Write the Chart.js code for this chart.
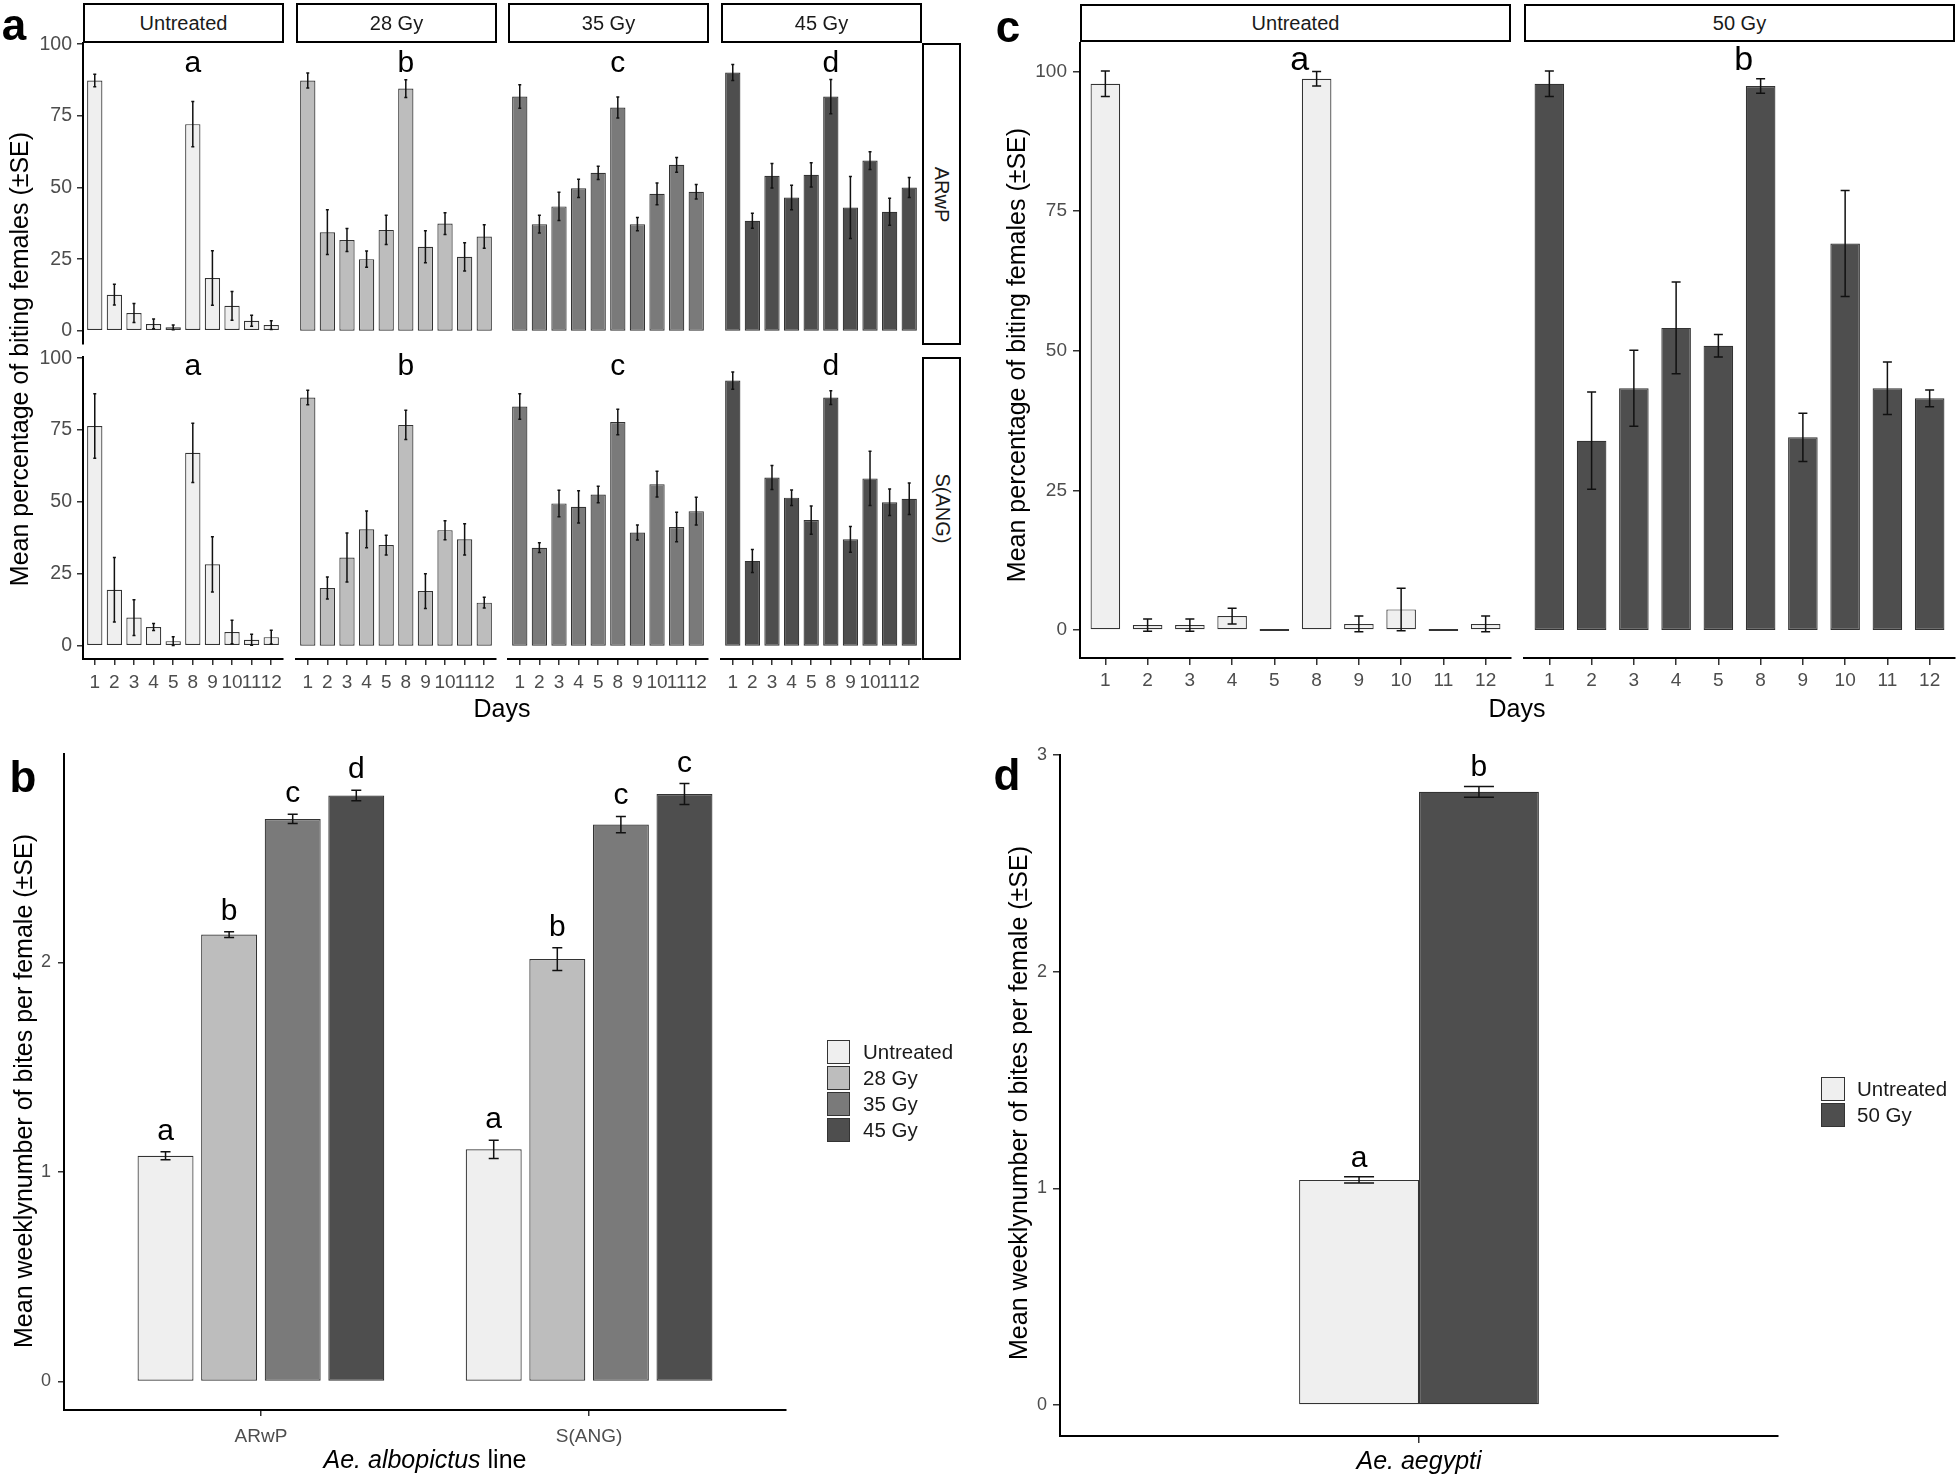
<!DOCTYPE html>
<html>
<head>
<meta charset="utf-8">
<title>Biting activity of irradiated Aedes females</title>
<script src="https://cdn.jsdelivr.net/npm/chart.js@4.4.1/dist/chart.umd.min.js"></script>
<style>
  html,body{margin:0;padding:0;background:#fff;}
  body{position:relative;width:1960px;height:1480px;overflow:hidden;font-family:"Liberation Sans",Arial,Helvetica,sans-serif;}
  canvas{position:absolute;}
  .txt{position:absolute;white-space:nowrap;}
  .strip{position:absolute;box-sizing:border-box;border:2px solid #000;background:#fff;display:flex;align-items:center;justify-content:center;color:#1a1a1a;font-size:20px;}
  .vstrip span{display:inline-block;transform:rotate(90deg);white-space:nowrap;}
  .key{position:absolute;box-sizing:border-box;border:1px solid #333;}
</style>
</head>
<body>
<script>
// ======================= DATA =======================
const days = ['1','2','3','4','5','8','9','10','11','12'];

// Panel a : Ae. albopictus, mean % of biting females per day (±SE)
const albTreatments = ['Untreated','28 Gy','35 Gy','45 Gy'];
const albLines      = ['ARwP','S(ANG)'];
const albLetters    = ['a','b','c','d'];

const arwpUntreated   = [87.3,12.6,6.2,2.4,1.2,72.1,18.4,8.7,3.5,2.0];
const arwpUntreatedSE = [2.2,3.6,3.3,1.7,0.8,7.9,9.5,5.0,1.9,1.5];
const arwp28          = [87.3,34.4,31.7,25.0,35.2,84.5,29.3,37.4,25.8,32.9];
const arwp28SE        = [2.6,7.8,4.0,2.8,5.1,3.1,5.6,3.8,4.9,4.1];
const arwp35          = [81.7,37.2,43.4,49.7,55.1,77.9,37.2,47.8,57.9,48.5];
const arwp35SE        = [4.1,3.1,4.9,3.2,2.3,3.7,2.3,3.8,2.6,2.5];
const arwp45          = [90.1,38.4,54.1,46.5,54.4,81.7,43.0,59.4,41.5,50.0];
const arwp45SE        = [2.8,2.6,4.3,4.3,4.2,6.0,10.8,3.1,4.7,3.5];

const sangUntreated   = [76.4,19.5,9.8,6.5,1.6,67.1,28.3,4.8,2.1,3.0];
const sangUntreatedSE = [11.2,11.2,6.2,1.2,1.5,10.3,9.6,4.1,1.9,2.4];
const sang28          = [86.3,20.1,30.7,40.5,35.0,76.8,19.0,40.2,37.0,15.0];
const sang28SE        = [2.5,3.8,8.5,6.4,3.4,5.1,6.0,3.3,5.4,1.9];
const sang35          = [83.2,34.1,49.5,48.3,52.6,77.8,39.4,56.2,41.3,46.8];
const sang35SE        = [4.4,1.7,4.6,5.6,2.9,4.4,2.6,4.5,5.1,4.8];
const sang45          = [92.2,29.5,58.5,51.5,43.7,86.3,37.0,58.2,49.9,51.1];
const sang45SE        = [3.0,4.0,4.2,2.7,4.9,2.4,4.5,9.4,4.6,5.5];

// Panel c : Ae. aegypti, mean % of biting females per day (±SE)
const aegTreatments     = ['Untreated','50 Gy'];
const aegLetters        = ['a','b'];
const aegDailyUntreated   = [97.8,0.9,0.9,2.5,0,98.7,1.1,3.7,0,1.1];
const aegDailyUntreatedSE = [2.3,1.1,1.1,1.4,0,1.3,1.4,3.8,0,1.4];
const aegDaily50          = [97.8,33.9,43.3,54.1,50.9,97.4,34.5,69.2,43.3,41.5];
const aegDaily50SE        = [2.3,8.7,6.8,8.2,2.0,1.3,4.3,9.5,4.7,1.5];

// Panel b : Ae. albopictus, mean weekly number of bites per female (±SE), by line [ARwP, S(ANG)]
const weeklyUntreated   = [1.077,1.108];
const weeklyUntreatedSE = [0.019,0.044];
const weekly28          = [2.133,2.016];
const weekly28SE        = [0.014,0.054];
const weekly35          = [2.685,2.658];
const weekly35SE        = [0.022,0.039];
const weekly45          = [2.797,2.804];
const weekly45SE        = [0.025,0.050];
const weeklyLettersUntreated = ['a','a'];
const weeklyLetters28        = ['b','b'];
const weeklyLetters35        = ['c','c'];
const weeklyLetters45        = ['d','c'];

// Panel d : Ae. aegypti, mean weekly number of bites per female (±SE), [Untreated, 50 Gy]
const aegWeekly        = [1.039,2.830];
const aegWeeklySE      = [0.014,0.025];
const aegWeeklyLetters = ['a','b'];

// ======================= STYLE =======================
const FONT = '"Liberation Sans", Arial, Helvetica, sans-serif';
const albColors = ['#efefef','#bdbdbd','#7a7a7a','#4e4e4e'];
const aegColors = ['#efefef','#4e4e4e'];
const BAR_BORDER = '#333333';
const TICK_TEXT = '#4d4d4d';
const M = 80;   // canvas margin around each panel

// ======================= HELPERS =======================
function errorBarPlugin(cfg){
  return { id:'errorBars', afterDatasetsDraw(chart){
    const ctx = chart.ctx, ys = chart.scales.y;
    ctx.save();
    ctx.strokeStyle = cfg.color; ctx.lineWidth = cfg.width; ctx.lineCap = 'butt';
    chart.data.datasets.forEach((ds, di) => {
      if (!ds.se) return;
      chart.getDatasetMeta(di).data.forEach((bar, i) => {
        const s = ds.se[i]; if (!s) return;
        const v = ds.data[i].y;
        const t = ys.getPixelForValue(v + s), b = ys.getPixelForValue(v - s);
        const c = cfg.cap / 2;
        ctx.beginPath();
        ctx.moveTo(bar.x, t); ctx.lineTo(bar.x, b);
        if (c > 0) { ctx.moveTo(bar.x - c, t); ctx.lineTo(bar.x + c, t); ctx.moveTo(bar.x - c, b); ctx.lineTo(bar.x + c, b); }
        ctx.stroke();
      });
    });
    ctx.restore();
  }};
}

function letterPlugin(items, font, gap){
  return { id:'sigLetters', afterDatasetsDraw(chart){
    const ctx = chart.ctx, xs = chart.scales.x, ys = chart.scales.y;
    ctx.save();
    ctx.font = font; ctx.fillStyle = '#000'; ctx.textAlign = 'center'; ctx.textBaseline = 'alphabetic';
    items.forEach(it => {
      let px, py;
      if (it.dataset !== undefined) {
        const ds = chart.data.datasets[it.dataset];
        const bar = chart.getDatasetMeta(it.dataset).data[it.index];
        px = bar.x;
        py = ys.getPixelForValue(ds.data[it.index].y + (ds.se ? ds.se[it.index] : 0)) - gap;
      } else {
        px = xs.getPixelForValue(it.x); py = ys.getPixelForValue(it.y);
      }
      ctx.fillText(it.text, px, py);
    });
    ctx.restore();
  }};
}

function panel(o){
  const cv = document.createElement('canvas');
  const W = o.w + 2*M, H = o.h + 2*M;
  cv.width = W; cv.height = H;
  Object.assign(cv.style, {left:(o.x - M)+'px', top:(o.y - M)+'px', width:W+'px', height:H+'px'});
  document.body.appendChild(cv);
  const yW = 60, xH = 44;
  const showY = !!o.yAxis, showX = !!o.xAxis;
  return new Chart(cv.getContext('2d'), {
    type:'bar',
    data:{ datasets:o.datasets },
    options:{
      responsive:false, animation:false, devicePixelRatio:1, events:[],
      layout:{ padding:{ left: showY ? M - yW : M, right:M, top:M, bottom: showX ? M - xH : M } },
      plugins:{ legend:{display:false}, tooltip:{enabled:false} },
      scales:{
        x:{ type:'linear', display:showX, min:o.xMin, max:o.xMax, offset:false, bounds:'data',
            afterBuildTicks:s => { s.ticks = o.xLabels.map((_, i) => ({value:i})); },
            afterFit:s => { s.height = showX ? xH : 0; },
            ticks:{ autoSkip:false, maxRotation:0, minRotation:0, color:TICK_TEXT,
                    font:{family:FONT, size:o.xFont || 19}, padding:o.xPad,
                    callback:v => (o.xLabels[v] !== undefined ? o.xLabels[v] : '') },
            grid:{ display:true, drawOnChartArea:false, drawTicks:true, tickLength:o.tick, color:'#333', lineWidth:1.5, offset:false },
            border:{ display:true, color:'#000', width:2 } },
        y:{ type:'linear', display:showY, min:o.yMin, max:o.yMax, bounds:'data',
            afterBuildTicks:s => { s.ticks = o.yTicks.map(v => ({value:v})); },
            afterFit:s => { s.width = showY ? yW : 0; },
            ticks:{ color:TICK_TEXT, font:{family:FONT, size:o.yFont || 18}, padding:o.yPad, callback:v => String(v) },
            grid:{ display:true, drawOnChartArea:false, drawTicks:true, tickLength:o.tick, color:'#333', lineWidth:1.5 },
            border:{ display:true, color:'#000', width:2 } }
      }
    },
    plugins:[ errorBarPlugin(o.err), letterPlugin(o.letters || [], o.letterFont, o.letterGap || 0) ]
  });
}

function text(html, cx, cy, opt){
  opt = opt || {};
  const d = document.createElement('div');
  d.className = 'txt';
  const size = opt.size || 20;
  d.style.font = `${opt.style || 'normal'} ${opt.weight || 'normal'} ${size}px ${FONT}`;
  d.style.lineHeight = size + 'px';
  d.style.color = opt.color || '#000';
  d.style.left = cx + 'px'; d.style.top = cy + 'px';
  const tx = opt.align === 'left' ? '0' : (opt.align === 'right' ? '-100%' : '-50%');
  d.style.transform = `translate(${tx},-50%)` + (opt.rotate ? ` rotate(${opt.rotate}deg)` : '');
  d.innerHTML = html;
  document.body.appendChild(d);
  return d;
}

function strip(label, x, y, w, h, vertical){
  const d = document.createElement('div');
  d.className = 'strip' + (vertical ? ' vstrip' : '');
  Object.assign(d.style, {left:x+'px', top:y+'px', width:w+'px', height:h+'px'});
  if (vertical) { const s = document.createElement('span'); s.textContent = label; d.appendChild(s); }
  else d.textContent = label;
  document.body.appendChild(d);
}

function legend(labels, colors, x, y0, pitch, kw, kh, textX){
  labels.forEach((lab, i) => {
    const k = document.createElement('div');
    k.className = 'key';
    Object.assign(k.style, {left:x+'px', top:(y0 + i*pitch)+'px', width:kw+'px', height:kh+'px', background:colors[i]});
    document.body.appendChild(k);
    text(lab, textX, y0 + i*pitch + kh/2, {size:20.5, align:'left', color:'#1a1a1a'});
  });
}

// ======================= PANEL a =======================
const albDaily   = [[arwpUntreated, arwp28, arwp35, arwp45], [sangUntreated, sang28, sang35, sang45]];
const albDailySE = [[arwpUntreatedSE, arwp28SE, arwp35SE, arwp45SE], [sangUntreatedSE, sang28SE, sang35SE, sang45SE]];
const A_X = [83, 296, 508, 721], A_W = 200;
const A_ROWS = [{y:43, h:301, letterY:90.3}, {y:357, h:302, letterY:94.1}];

A_ROWS.forEach((row, r) => {
  A_X.forEach((x, c) => {
    panel({ x, y:row.y, w:A_W, h:row.h, yAxis:c === 0, xAxis:r === 1,
      yMin:-4.6, yMax:100.4, yTicks:[0,25,50,75,100],
      xMin:-0.6, xMax:9.6, xLabels:days, tick:6, yPad:5, xPad:6, xFont:19, yFont:19.5,
      datasets:[{ label:albTreatments[c] + ' ' + albLines[r],
        data:albDaily[r][c].map((v, i) => ({x:i, y:v})), se:albDailySE[r][c],
        backgroundColor:albColors[c], borderColor:BAR_BORDER, borderWidth:1.2, borderSkipped:false,
        categoryPercentage:1, barPercentage:0.78 }],
      err:{cap:3, width:1.5, color:'#111'},
      letters:[{x:5, y:row.letterY, text:albLetters[c]}], letterFont:`30px ${FONT}` });
  });
  strip(albLines[r], 922, row.y, 39, row.h + 1, true);
});
A_X.forEach((x, c) => strip(albTreatments[c], x, 3, A_W + 1, 40, false));

text('a', 14, 25, {size:44, weight:'bold'});
text('Mean percentage of biting females (±SE)', 19, 359, {size:25, rotate:-90});
text('Days', 502, 708, {size:25});

// ======================= PANEL c =======================
const aegDaily   = [aegDailyUntreated, aegDaily50];
const aegDailySE = [aegDailyUntreatedSE, aegDaily50SE];
const C_X = [1080, 1524], C_W = 431;
C_X.forEach((x, c) => {
  panel({ x, y:43, w:C_W, h:615, yAxis:c === 0, xAxis:true,
    yMin:-5, yMax:105.1, yTicks:[0,25,50,75,100],
    xMin:-0.6, xMax:9.6, xLabels:days, tick:7, yPad:6, xPad:4, xFont:19, yFont:19,
    datasets:[{ label:aegTreatments[c],
      data:aegDaily[c].map((v, i) => ({x:i, y:v})), se:aegDailySE[c],
      backgroundColor:aegColors[c], borderColor:BAR_BORDER, borderWidth:1.2, borderSkipped:false,
      categoryPercentage:1, barPercentage:0.7, minBarLength:2 }],
    err:{cap:9, width:1.5, color:'#111'},
    letters:[{x:4.6, y:100.2, text:aegLetters[c]}], letterFont:`34px ${FONT}` });
  strip(aegTreatments[c], x, 4, C_W, 38, false);
});
text('c', 1008, 27, {size:44, weight:'bold'});
text('Mean percentage of biting females (±SE)', 1016, 355, {size:25, rotate:-90});
text('Days', 1517, 708, {size:25});

// ======================= PANEL b =======================
const weeklyMeans   = [weeklyUntreated, weekly28, weekly35, weekly45];
const weeklySE      = [weeklyUntreatedSE, weekly28SE, weekly35SE, weekly45SE];
const weeklyLetters = [weeklyLettersUntreated, weeklyLetters28, weeklyLetters35, weeklyLetters45];
panel({ x:64, y:754, w:722, h:656, yAxis:true, xAxis:true,
  yMin:-0.136, yMax:2.995, yTicks:[0,1,2],
  xMin:-0.6, xMax:1.6, xLabels:albLines, tick:6, yPad:7, xPad:9, xFont:19, yFont:18,
  datasets:weeklyMeans.map((m, k) => ({ label:albTreatments[k],
    data:m.map((v, i) => ({x:i, y:v})), se:weeklySE[k],
    backgroundColor:albColors[k], borderColor:BAR_BORDER, borderWidth:1.2, borderSkipped:false,
    categoryPercentage:0.775, barPercentage:0.88 })),
  err:{cap:10, width:1.5, color:'#111'},
  letters:weeklyLetters.flatMap((arr, k) => arr.map((t, i) => ({dataset:k, index:i, text:t}))),
  letterFont:`30px ${FONT}`, letterGap:12 });
text('b', 23, 777, {size:44, weight:'bold'});
text('Mean weeklynumber of bites per female (±SE)', 23, 1091, {size:25, rotate:-90});
text('<i>Ae. albopictus</i> line', 425, 1459, {size:25});
legend(albTreatments, albColors, 827, 1040, 26, 23, 24, 863);

// ======================= PANEL d =======================
panel({ x:1060, y:755, w:718, h:681, yAxis:true, xAxis:true,
  yMin:-0.143, yMax:3.0, yTicks:[0,1,2,3],
  xMin:-0.6, xMax:0.6, xLabels:[''], tick:7, yPad:6, xPad:4, xFont:19, yFont:18,
  datasets:aegWeekly.map((v, k) => ({ label:aegTreatments[k],
    data:[{x:0, y:v}], se:[aegWeeklySE[k]],
    backgroundColor:aegColors[k], borderColor:BAR_BORDER, borderWidth:1.2, borderSkipped:false,
    categoryPercentage:0.334, barPercentage:1 })),
  err:{cap:30, width:1.5, color:'#111'},
  letters:aegWeeklyLetters.map((t, k) => ({dataset:k, index:0, text:t})),
  letterFont:`30px ${FONT}`, letterGap:10 });
text('d', 1007, 775, {size:44, weight:'bold'});
text('Mean weeklynumber of bites per female (±SE)', 1018, 1103, {size:25, rotate:-90});
text('<i>Ae. aegypti</i>', 1419, 1460, {size:25});
legend(aegTreatments, aegColors, 1821, 1077, 26, 24, 24, 1857);
</script>
</body>
</html>
